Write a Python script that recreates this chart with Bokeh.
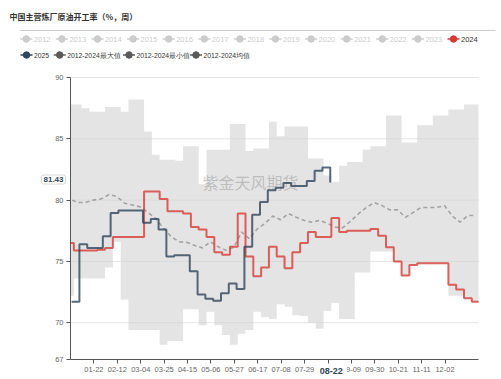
import pandas as pd
from bokeh.plotting import figure
from bokeh.models import Range1d, FixedTicker, Label, LinearAxis
from bokeh.embed import file_html
from bokeh.resources import INLINE
from bokeh.core.properties import value

TITLE = "中国主营炼厂原油开工率（%，周）"
WATERMARK = "紫金天风期货"

# weekly dates (MM-DD) of the 2024 / band / average series
WEEKS_2024 = ["01-01",
              "01-04", "01-11", "01-18", "01-25", "02-01", "02-08", "02-15", "02-22", "02-29",
              "03-07", "03-14", "03-21", "03-28", "04-04", "04-11", "04-18", "04-25",
              "05-02", "05-09", "05-16", "05-23", "05-30", "06-06", "06-13", "06-20", "06-27",
              "07-04", "07-11", "07-18", "07-25", "08-01", "08-08", "08-15", "08-22", "08-29",
              "09-05", "09-12", "09-19", "09-26", "10-03", "10-10", "10-17", "10-24", "10-31",
              "11-07", "11-14", "11-21", "11-28", "12-05", "12-12", "12-19", "12-26"]
YEAR_END = "12-31"

Y2024 = [76.5, 75.9, 75.9, 75.9, 75.95, 76.1, 77.0, 77.0, 77.0, 77.0,
         80.7, 80.7, 80.1, 79.1, 79.1, 78.9, 77.8, 77.6, 77.0, 75.75,
         75.55, 76.2, 78.9, 75.4, 73.8, 74.5, 76.2, 75.4, 74.45, 75.75,
         76.5, 77.4, 77.0, 77.0, 78.55, 77.4, 77.5, 77.5, 77.5, 77.65,
         77.1, 76.15, 75.0, 73.85, 74.7, 74.85, 74.85, 74.85, 74.85, 73.1,
         72.7, 72.0, 71.7]

MAX_12_24 = [87.8, 87.8, 87.5, 87.2, 87.2, 87.6, 87.6, 87.2, 88.2, 88.2,
             85.6, 83.7, 83.3, 83.3, 83.2, 84.4, 84.4, 81.3, 84.1, 84.1,
             84.1, 86.2, 86.2, 84.0, 84.2, 84.2, 86.4, 85.2, 86.0, 86.0,
             86.0, 83.4, 83.4, 82.0, 81.5, 82.8, 83.1, 83.1, 84.1, 84.4,
             84.4, 86.9, 86.9, 84.7, 84.7, 86.1, 86.1, 86.9, 86.9, 87.4,
             87.4, 87.8, 87.8]

MIN_12_24 = [72.2, 73.6, 73.6, 73.6, 73.6, 74.5, 76.6, 71.9, 69.4, 69.4,
             69.4, 69.4, 68.2, 68.5, 68.5, 71.1, 71.1, 69.8, 70.9, 69.8,
             69.0, 68.2, 69.1, 69.4, 70.9, 70.45, 70.3, 71.5, 71.3, 70.6,
             70.55, 70.0, 69.5, 70.95, 71.6, 70.3, 70.3, 74.1, 74.1, 75.8,
             75.8, 75.8, 75.0, 73.85, 74.7, 74.85, 74.85, 74.85, 74.85, 72.2,
             72.2, 72.0, 71.7]

AVG_12_24 = [80.0, 79.8, 79.8, 80.0, 80.1, 80.45, 80.3, 79.75, 79.6, 79.45,
             79.0, 78.5, 77.7, 77.0, 76.6, 76.55, 76.3, 76.1, 76.6, 76.2,
             75.9, 76.15, 77.4, 76.85, 77.65, 78.1, 78.7, 78.4, 78.9, 78.6,
             78.35, 78.2, 78.35, 78.1, 77.8, 77.75, 78.3, 78.9, 79.4, 79.8,
             79.55, 79.2, 79.2, 78.6, 79.0, 79.4, 79.4, 79.4, 79.55, 78.7,
             78.2, 78.75, 78.75]

WEEKS_2025 = ["01-02", "01-09", "01-16", "01-23", "01-30", "02-06", "02-13", "02-20", "02-27",
              "03-06", "03-13", "03-20", "03-27", "04-03", "04-10", "04-17", "04-24",
              "05-01", "05-08", "05-15", "05-22", "05-29", "06-05", "06-12", "06-19", "06-26",
              "07-03", "07-10", "07-17", "07-24", "07-31", "08-07", "08-14", "08-21"]
Y2025 = [71.7, 76.4, 76.1, 76.1, 77.05, 78.95, 79.15, 79.15, 79.15,
         78.15, 78.45, 77.6, 75.4, 75.5, 75.5, 74.2, 72.3,
         71.95, 71.8, 72.4, 73.2, 72.75, 76.2, 78.8, 79.85, 80.8,
         81.0, 81.4, 81.15, 81.15, 81.55, 82.4, 82.65, 81.43]

X_TICK_LABELS = ["01-22", "02-12", "03-04", "03-25", "04-15", "05-06", "05-27", "06-17",
                 "07-08", "07-29", "08-19", "09-09", "09-30", "10-21", "11-11", "12-02"]
Y_TICKS = [67, 70, 75, 80, 85, 90]
GRID_TICKS = [70, 75, 80, 85, 90]
Y_MIN, Y_MAX = 67, 90
POINTER_DATE = "08-22"
POINTER_VALUE = 81.43

LEGEND_ROW1 = ["2012", "2013", "2014", "2015", "2016", "2017", "2018", "2019",
               "2020", "2021", "2022", "2023", "2024"]
LEGEND_ROW2 = ["2025", "2012-2024最大值", "2012-2024最小值", "2012-2024均值"]

RED = "#d63b36"
NAVY = "#2e4457"
OFF = "#cccccc"
DARKGRAY = "#5a5a5a"
SANS = "Liberation Sans"
CJK = "Noto Sans CJK SC"


def day(md):
    return pd.Timestamp("2024-" + md).dayofyear - 1


x24 = [day(d) for d in WEEKS_2024]
x_end = day(YEAR_END) + 1
x25 = [day(d) for d in WEEKS_2025]

# ---------------- canvas geometry (pixels) ----------------
W, H = 501, 379
PLOT_L, PLOT_T, PLOT_W, PLOT_H = 70, 77, 408, 282
SX = PLOT_W / x_end
SY = PLOT_H / (Y_MAX - Y_MIN)


def px_x(px):
    return (px - PLOT_L) / SX


def px_y(py):
    return Y_MAX - (py - PLOT_T) / SY


p = figure(width=W, height=H, title=None,
           x_range=Range1d(px_x(0), px_x(W)), y_range=Range1d(px_y(H), px_y(0)),
           x_axis_type=None, y_axis_type=None, output_backend="svg",
           toolbar_location=None, min_border=0)
p.outline_line_color = None
p.grid.visible = False

# ---------------- header: title + legend ----------------
p.text(x=[px_x(9)], y=[px_y(15.5)], text=[TITLE], text_font=value(CJK),
       text_font_style="bold", text_font_size="8px", text_color="#333333",
       text_baseline="middle")
p.segment(x0=[px_x(20)], y0=[px_y(30)], x1=[px_x(495)], y1=[px_y(30)],
          line_color="#cccccc", line_width=1)

row1_c = [25.8 + 35.6 * i for i in range(len(LEGEND_ROW1))]
row1_col = [OFF] * (len(LEGEND_ROW1) - 1) + [RED]
row1_txt = [OFF] * (len(LEGEND_ROW1) - 1) + ["#333333"]
row2_c = [26, 59.2, 128.5, 195.5]
row2_col = [NAVY, DARKGRAY, DARKGRAY, DARKGRAY]

for cs, labels, cols, tcols, yy, fs in [
        (row1_c, LEGEND_ROW1, row1_col, row1_txt, 38.5, "7.5px"),
        (row2_c, LEGEND_ROW2, row2_col, ["#333333"] * 4, 54.5, "6.8px")]:
    n = len(cs)
    p.segment(x0=[px_x(c - 6) for c in cs], y0=[px_y(yy)] * n,
              x1=[px_x(c + 6) for c in cs], y1=[px_y(yy)] * n,
              line_color=cols, line_width=1.6)
    p.scatter(x=[px_x(c) for c in cs], y=[px_y(yy)] * n, size=6.5, marker="circle",
              fill_color=cols, line_color=cols)
    p.text(x=[px_x(c + 7.5) for c in cs], y=[px_y(yy)] * n, text=labels,
           text_font=value(SANS), text_font_size=fs, text_color=tcols,
           text_baseline="middle")

# ---------------- axes (drawn at the plot-area edges) ----------------
yax = LinearAxis(fixed_location=0, bounds=(Y_MIN, Y_MAX), ticker=FixedTicker(ticks=Y_TICKS))
xax = LinearAxis(fixed_location=Y_MIN, bounds=(0, x_end),
                 ticker=FixedTicker(ticks=[day(s) for s in X_TICK_LABELS]),
                 major_label_overrides={day(s): s for s in X_TICK_LABELS})
for ax in (xax, yax):
    ax.axis_line_color = "#555555"
    ax.major_tick_line_color = "#555555"
    ax.major_tick_in = 0
    ax.major_tick_out = 4
    ax.minor_tick_line_color = None
    ax.major_label_text_font = SANS
    ax.major_label_text_font_size = "7.5px"
    ax.major_label_text_color = "#666666"
    ax.major_label_standoff = 3
p.add_layout(yax, "left")
p.add_layout(xax, "below")

# horizontal grid lines of the plot area
p.segment(x0=[0] * len(GRID_TICKS), y0=GRID_TICKS, x1=[x_end] * len(GRID_TICKS),
          y1=GRID_TICKS, line_color="#e4e4e4", line_width=1)

# ---------------- data ----------------
band_x = x24 + [x_end]
p.varea_step(x=band_x, y1=MIN_12_24 + [MIN_12_24[-1]], y2=MAX_12_24 + [MAX_12_24[-1]],
             step_mode="after", fill_color="#d2d2d2", fill_alpha=0.6)

p.text(x=[px_x(250)], y=[px_y(181)], text=[WATERMARK], text_font=value(CJK),
       text_font_size="16px", text_color="#8c8c8c", text_alpha=0.45,
       text_align="center", text_baseline="middle")

avg_x = [(a + b) / 2 for a, b in zip(band_x[:-1], band_x[1:])]
p.line(x=avg_x, y=AVG_12_24, line_color="#a3a3a3", line_width=1.6, line_dash="4 3")

p.step(x=x24 + [x_end], y=Y2024 + [Y2024[-1]], mode="after", line_color=RED,
       line_width=2, line_alpha=0.8)
p.step(x=x25, y=Y2025, mode="after", line_color=NAVY, line_width=2, line_alpha=0.8)

# ---------------- axis-pointer labels ----------------
p.add_layout(Label(x=px_x(65), y=px_y(179), text=f"{POINTER_VALUE:.2f}",
                   text_align="right", text_baseline="middle", text_font=SANS,
                   text_font_size="8px", text_font_style="bold", text_color=NAVY,
                   background_fill_color="white", border_line_color="#d8d8d8",
                   padding=2, border_radius=2))
p.add_layout(Label(x=day(POINTER_DATE), y=px_y(370.5), text=POINTER_DATE,
                   text_align="center", text_baseline="middle", text_font=SANS,
                   text_font_size="9px", text_font_style="bold", text_color=NAVY,
                   background_fill_color="white", padding=4))

open("out.html", "w").write(file_html(p, INLINE))
